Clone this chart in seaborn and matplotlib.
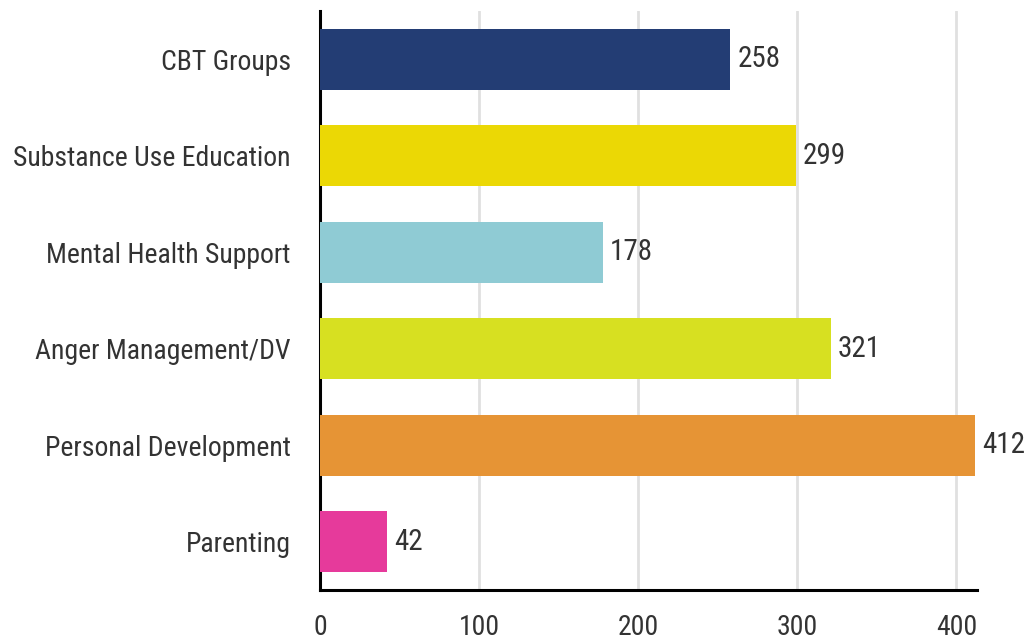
import matplotlib
matplotlib.use("Agg")
import matplotlib.pyplot as plt
import seaborn as sns
import pandas as pd
from matplotlib import font_manager

categories = ["CBT Groups", "Substance Use Education", "Mental Health Support",
              "Anger Management/DV", "Personal Development", "Parenting"]
values = [258, 299, 178, 321, 412, 42]
colors = ["#233d74", "#ebd805", "#8fcbd4", "#d7e021", "#e69435", "#e63a9b"]
xticks = [0, 100, 200, 300, 400]

sns.set_theme(style="white")
avail = {f.name for f in font_manager.fontManager.ttflist}
fams = [f for f in ["Roboto Condensed", "Liberation Sans Narrow", "Roboto", "DejaVu Sans"] if f in avail]
plt.rcParams["font.family"] = fams

df = pd.DataFrame({"category": categories, "value": values})

fig = plt.figure(figsize=(10.36, 6.35), dpi=100)
ax = fig.add_axes([320/1036, 1-590/635, (977-320)/1036, (590-11)/635])
sns.barplot(data=df, x="value", y="category", hue="category", palette=colors,
            legend=False, width=0.63, saturation=1, linewidth=0, ax=ax, zorder=3)

ax.set_xlim(0, 413)
ax.set_ylim(5.5, -0.5)
ax.set_xticks(xticks)
ax.set_xlabel("")
ax.set_ylabel("")
ax.grid(axis="x", color="#e0e0e0", linewidth=2, zorder=0)
ax.set_axisbelow(True)
for s in ["top", "right"]:
    ax.spines[s].set_visible(False)
for s in ["left", "bottom"]:
    ax.spines[s].set_color("black")
    ax.spines[s].set_linewidth(2.2)
ax.tick_params(axis="both", which="both", length=13, width=2, color="black",
               labelsize=20, labelcolor="#333333", direction="out")
ax.tick_params(axis="y", pad=8)
ax.tick_params(axis="x", pad=4)

for i, v in enumerate(values):
    ax.annotate(str(v), (v, i), xytext=(5, 0), textcoords="offset points",
                va="center", ha="left", fontsize=21, color="#333333")

fig.savefig("out.png", dpi=100)
